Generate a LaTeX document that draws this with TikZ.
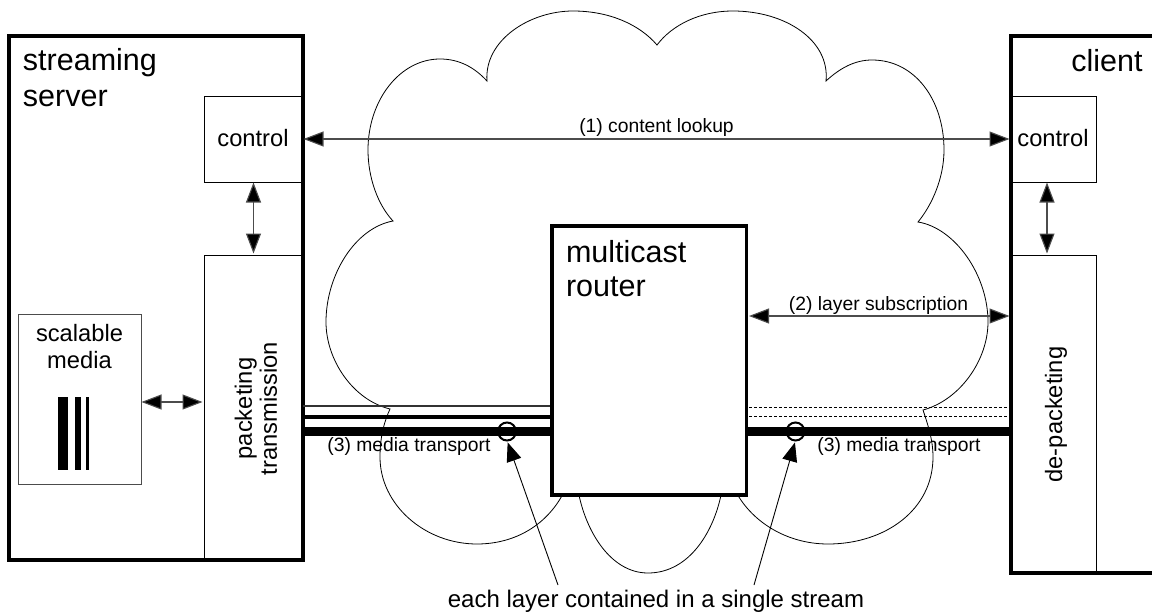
\documentclass[tikz,border=0pt]{standalone}
\usepackage{fontspec}
\setmainfont{Liberation Sans}
\usetikzlibrary{arrows.meta}
\newcommand{\bigtxt}{\fontsize{30.5}{34}\selectfont}
\newcommand{\midtxt}{\fontsize{23.7}{26.5}\selectfont}
\newcommand{\smalltxt}{\fontsize{19.3}{22}\selectfont}
\tikzset{
  x=1pt,y=-1pt,
  thickbox/.style={draw=black,line width=3.6pt,fill=white,inner sep=0pt,outer sep=0pt,anchor=north west},
  thinbox/.style={draw=black,line width=0.9pt,fill=white,inner sep=0pt,outer sep=0pt,anchor=north west},
  label/.style={inner sep=0pt,outer sep=0pt,text=black},
  duplex/.style={draw=black!70,line width=1.1pt,{Triangle[length=20pt,width=15pt,fill=black]}-{Triangle[length=20pt,width=15pt,fill=black]},shorten <=0.5pt,shorten >=1.5pt},
  pointer/.style={draw=black,line width=0.9pt,-{Triangle[length=19pt,width=15pt,fill=black]},shorten >=2pt},
  layerthin/.style={draw=black!80,line width=1.1pt},
  layermid/.style={draw=black,line width=4pt},
  layerthick/.style={draw=black,line width=9pt},
  layerdash/.style={draw=black,line width=0.8pt,dash pattern=on 3pt off 2pt},
  ring/.style={circle,draw=black,line width=2pt,minimum size=18pt,inner sep=0pt,outer sep=0pt},
}
\begin{document}
\begin{tikzpicture}
\useasboundingbox (0,0) rectangle (1152,613);
% cloud
\draw[black,line width=0.8pt,fill=white]
 (487,81) .. controls (484,40) and (530,11) .. (573,11)
 .. controls (610,11) and (640,25) .. (657,45)
 .. controls (672,25) and (700,11) .. (733,11)
 .. controls (785,11) and (830,40) .. (826,81)
 .. controls (840,68) and (855,60) .. (872,60)
 .. controls (915,60) and (944,100) .. (944,150)
 .. controls (944,178) and (932,205) .. (918,222)
 .. controls (955,228) and (988,275) .. (988,322)
 .. controls (988,360) and (960,400) .. (923,410)
 .. controls (928,425) and (933,440) .. (933,457)
 .. controls (933,510) and (885,544) .. (828,544)
 .. controls (785,544) and (750,520) .. (735,490)
 -- (722,490)
 .. controls (715,530) and (690,573) .. (648,573)
 .. controls (610,573) and (585,530) .. (578,490)
 -- (565,490)
 .. controls (548,525) and (515,544) .. (477,544)
 .. controls (425,544) and (380,505) .. (380,457)
 .. controls (380,435) and (385,420) .. (390,409)
 .. controls (353,400) and (326,360) .. (326,322)
 .. controls (326,275) and (355,228) .. (393,221)
 .. controls (378,205) and (368,178) .. (368,150)
 .. controls (368,100) and (400,59) .. (440,59)
 .. controls (460,59) and (475,68) .. (487,81) -- cycle;
% containers
\node[thickbox,minimum width=294pt,minimum height=524pt] (server) at (9,36) {};
\node[thickbox,minimum width=160pt,minimum height=537pt] (client) at (1011,36) {};
\node[thinbox,minimum width=99pt,minimum height=86pt] (sctl) at (204,96) {};
\node[thinbox,minimum width=99pt,minimum height=305pt] (spkt) at (204,255) {};
\node[thinbox,draw=black!70,minimum width=123pt,minimum height=170pt] (media) at (18,314) {};
\node[thinbox,minimum width=85pt,minimum height=86pt] (cctl) at (1011,96) {};
\node[thinbox,minimum width=85pt,minimum height=318pt] (cpkt) at (1011,255) {};
\draw[line width=3.6pt,line cap=rect] (server.north east) -- (server.south east) -- (server.south west);
\draw[line width=3.6pt,line cap=rect] (client.north west) -- (client.south west) -- (client.south east);
% layer bars in the media box
\fill[black] (58,397) rectangle (68,470);
\fill[black] (75,397) rectangle (81,470);
\fill[black] (86,397) rectangle (89,470);
% streams
\coordinate (sa) at (303,406); \coordinate (ra) at (552,406);
\coordinate (sb) at (303,417); \coordinate (rb) at (552,417);
\coordinate (sc) at (303,431.5); \coordinate (rc) at (552,431.5);
\coordinate (qa) at (749,407); \coordinate (ca) at (1008,407);
\coordinate (qb) at (749,416); \coordinate (cb) at (1008,416);
\coordinate (qc) at (746,431.5); \coordinate (cc) at (1011,431.5);
\draw[layerthin] (sa) -- (ra);
\draw[layermid] (sb) -- (rb);
\draw[layerthick] (sc) -- (rc);
\draw[layerdash] (qa) -- (ca);
\draw[layerdash] (qb) -- (cb);
\draw[layerthick] (qc) -- (cc);
\node[thickbox,minimum width=194.5pt,minimum height=269pt] (router) at (552,226) {};
% rings
\node[ring] (ringl) at (507,431.5) {};
\node[ring] (ringr) at (795.5,431.5) {};
% arrows
\coordinate (cua) at (1047,182); \coordinate (cub) at (1047,255);
\coordinate (ma) at (141,402); \coordinate (mb) at (204,402);
\coordinate (sua) at (748.5,316); \coordinate (sub) at (1011,316);
\draw[duplex] (sctl.east) -- (cctl.west);
\draw[duplex] (sctl.south) -- (spkt.north);
\draw[duplex] (cua) -- (cub);
\draw[duplex] (ma) -- (mb);
\draw[duplex] (sua) -- (sub);
% labels
\node[label,anchor=north west,align=left,font=\bigtxt] (tserver) at (23,48) {streaming\\[2pt]server};
\node[label,anchor=base,font=\bigtxt] (tclient) at (1107,71) {client};
\node[label,anchor=north west,align=left,font=\bigtxt] (trouter) at (566,240) {multicast\\router};
\node[label,font=\midtxt] (tsctl) at (253,138.5) {control};
\node[label,font=\midtxt] (tcctl) at (1053,138.5) {control};
\node[label,font=\midtxt,align=center] (tmedia) at (79.5,346.5) {scalable\\media};
\node[label,font=\fontsize{23.7}{25}\selectfont,align=center,rotate=90] (tspkt) at (256,408.5) {packeting\\transmission};
\node[label,font=\midtxt,rotate=90] (tcpkt) at (1056,414.5) {de-packeting};
\node[label,font=\smalltxt] (t1) at (656.5,127.5) {(1) content lookup};
\node[label,font=\smalltxt] (t2) at (878.5,306) {(2) layer subscription};
\node[label,font=\smalltxt] (t3l) at (409,447) {(3) media transport};
\node[label,font=\smalltxt] (t3r) at (899,447) {(3) media transport};
\node[label,font=\fontsize{24}{28}\selectfont] (tbottom) at (656,601) {each layer contained in a single stream};
% pointers
\coordinate (pl) at (558,585);
\coordinate (pr) at (754,585);
\draw[pointer] (pl) -- (ringl.south);
\draw[pointer] (pr) -- (ringr.south);
\end{tikzpicture}
\end{document}
